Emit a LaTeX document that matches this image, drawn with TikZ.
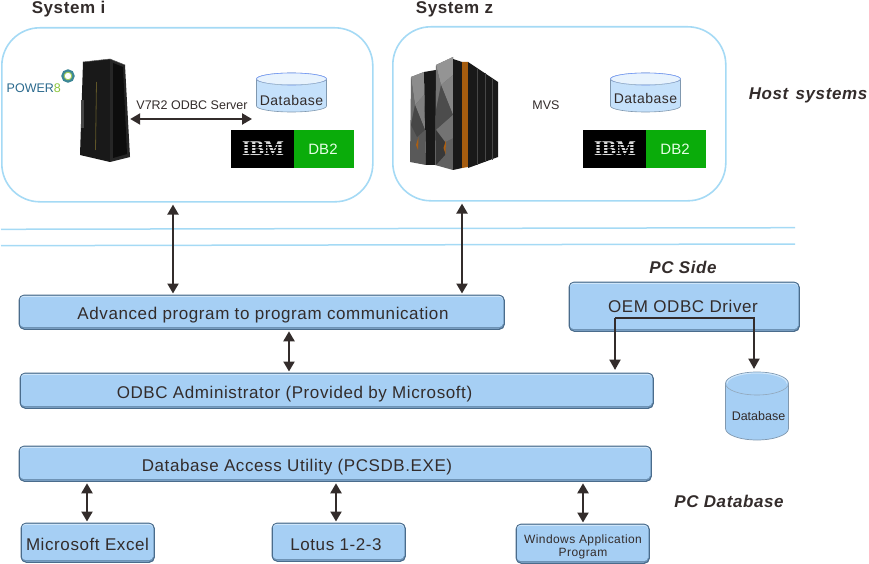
\documentclass[tikz,border=0pt]{standalone}
\usepackage{fontspec}
\setmainfont{Liberation Sans}
\newfontfamily\spfont[LetterSpace=3.5]{Liberation Sans}
\newfontfamily\ibmfont{Liberation Serif}
\usetikzlibrary{arrows.meta,shapes.geometric}
\definecolor{bevelLow}{HTML}{6E93B5}
\definecolor{bevelFill}{HTML}{A6CFF4}
\definecolor{bevelHigh}{HTML}{CFE6FA}
\definecolor{edgeblue}{HTML}{4A6C8C}
\definecolor{sysline}{HTML}{A5DAF5}
\definecolor{ink}{HTML}{332C2B}
\definecolor{dbgreen}{HTML}{0AAC0A}
\definecolor{dbfill}{HTML}{C5E1FB}
\newcommand{\fsz}[1]{\fontsize{#1}{#1}\selectfont}
\tikzset{
  x=1pt,y=-1pt,
  lab/.style={text=ink,inner sep=0pt,anchor=center},
  barlab/.style={text=ink,inner sep=0pt,anchor=base,font=\spfont\fsz{17}},
  headlab/.style={lab,font=\spfont\fsz{17}\bfseries},
  sidelab/.style={lab,font=\spfont\fsz{17}\bfseries\itshape},
  sysbox/.style={draw=sysline,line width=1.6pt,rounded corners=38pt,fill=white,anchor=north west},
  bar/.style={draw=edgeblue,line width=0.8pt,rounded corners=5pt,fill=bevelFill,inner sep=0pt,anchor=north west},
  link/.style={draw=ink,line width=2.2pt,{Triangle[length=10pt,width=11pt]}-{Triangle[length=10pt,width=11pt]}},
  linkone/.style={draw=ink,line width=2.2pt,-{Triangle[length=10.5pt,width=11pt]}},
}
\newcommand{\barnode}[5]{% name x y w h
  \node[bar,minimum width=#4pt,minimum height=#5pt] (#1) at (#2,#3) {};
  \fill[bevelHigh,rounded corners=4pt] (#2+0.6,#3+0.6) rectangle (#2+#4-0.6,#3+7);
  \fill[bevelLow,rounded corners=4pt] (#2+0.6,#3+#5-0.6) rectangle (#2+#4-0.6,#3+#5-7);
  \fill[bevelFill,rounded corners=3pt] (#2+1,#3+2) rectangle (#2+#4-1.2,#3+#5-2.2);
  \draw[edgeblue,line width=0.8pt,rounded corners=5pt] (#2,#3) rectangle (#2+#4,#3+#5);
}
\newcommand{\flatdb}[4]{% name cx top labely
  \begin{scope}[shift={(#2,#3)}]
    \fill[dbfill,draw=edgeblue!70,line width=0.6pt] (-35,6) -- (-35,33) arc[x radius=35,y radius=6,start angle=180,end angle=0] -- (35,6) arc[x radius=35,y radius=6,start angle=0,end angle=-180] -- cycle;
    \fill[white!60!dbfill,draw=sysline!70!blue,line width=0.6pt] (0,6) ellipse[x radius=35,y radius=6];
    \fill[dbfill] (-33.5,8.5) .. controls (-15,12.6) and (15,12.6) .. (33.5,8.5) -- (33.5,12) -- (-33.5,12) -- cycle;
    \draw[edgeblue!60,line width=0.5pt] (-35,6) arc[x radius=35,y radius=6,start angle=180,end angle=0];
  \end{scope}
  \node[lab,font=\spfont\fsz{14}] (#1) at (#2,#4) {Database};
}
\newcommand{\ibmdb}[3]{% name x y
  \begin{scope}[shift={(#2,#3)}]
    \fill[black] (0,0) rectangle (63,38);
    \fill[dbgreen] (62.5,0) rectangle (123,38);
    \node[font=\ibmfont\fsz{21}\bfseries,text=black!15,inner sep=0pt] (#1a) at (32,19) {IBM};
    \foreach \yy in {14.6,17.4,20.2,23} \draw[black,line width=0.5pt] (12,\yy) -- (52,\yy);
    \node[font=\fsz{15},text=white!90!green,inner sep=0pt] (#1b) at (92,19) {DB2};
  \end{scope}
}
\begin{document}
\begin{tikzpicture}
\useasboundingbox (0,0) rectangle (869,564);
% host frames
\node[sysbox,minimum width=371pt,minimum height=174pt] (sysi) at (1,27) {};
\node[sysbox,minimum width=333pt,minimum height=174pt] (sysz) at (392,26) {};
\node[headlab] (headi) at (68.5,9) {System i};
\node[headlab] (headz) at (454.5,9) {System z};
\node[sidelab] (host) at (808,95) {Host\hspace{2pt} systems};
\node[sidelab] (pcside) at (683,267) {PC Side};
\node[sidelab] (pcdb) at (729,501) {PC Database};
% network lines
\draw[sysline,line width=1.5pt] (1,229.3) -- (795,227.7);
\draw[sysline,line width=1.5pt] (1,245.7) -- (795,244);
% POWER8
\node[inner sep=0pt,anchor=west,font=\fsz{12.5}] (power) at (6.5,88) {\textcolor[HTML]{2B6A8E}{POWER}\textcolor[HTML]{8CC63F}{8}};
\draw[line width=2.6pt,color={rgb,255:red,60;green,135;blue,150}] (68,76) circle[radius=5.4];
\draw[line width=0.9pt,color={rgb,255:red,160;green,205;blue,90}] (68,76) circle[radius=3.8];
% tower i
\node[inner sep=0pt,minimum width=50pt,minimum height=100pt] (srvi) at (105,111) {};
\fill[black!90] (83,62) -- (110,59) -- (110,162) -- (80,155) -- cycle;
\fill[black!85] (110,59) -- (125,65) -- (130,157) -- (110,162) -- cycle;
\fill[black!95] (113,63) -- (123,67) -- (127,154) -- (113,158) -- cycle;
\draw[black!65,line width=0.5pt] (83,62) -- (110,59) -- (125,65);
\draw[line width=0.8pt,color={rgb,255:red,95;green,85;blue,40}] (96.5,82) -- (95.5,150);
\fill[black!72] (81,100) rectangle (83.5,128);
% system z machine
\node[inner sep=0pt,minimum width=88pt,minimum height=115pt] (srvz) at (454,114) {};
\fill[black!65] (411,77) -- (424,72) -- (426,165) -- (410,162) -- cycle;
\fill[black!45] (411,77) -- (424,72) -- (424,95) -- (415,105) -- cycle;
\fill[black!58] (411,77) -- (415,105) -- (411,125) -- cycle;
\fill[black!50] (415,105) -- (424,95) -- (425,130) -- cycle;
\fill[black!72] (411,125) -- (415,105) -- (425,130) -- (417,137) -- cycle;
\fill[black!90] (424,72) -- (436,70) -- (436,165) -- (426,165) -- cycle;
\fill[black!62] (436,65) -- (453,57) -- (453,170) -- (435,165) -- cycle;
\fill[black!42] (436,65) -- (453,57) -- (453,75) -- (441,85) -- cycle;
\fill[black!55] (436,65) -- (441,85) -- (436,110) -- cycle;
\fill[black!48] (441,85) -- (453,75) -- (453,115) -- cycle;
\fill[black!70] (436,110) -- (441,85) -- (453,115) -- (436,130) -- cycle;
\fill[black!55] (436,130) -- (453,115) -- (453,138) -- (445,142) -- cycle;
\fill[black!78] (436,130) -- (445,142) -- (445,155) -- (436,165) -- cycle;
\fill[black!90] (453,59) -- (462,62) -- (462,168) -- (453,170) -- cycle;
\fill[color={rgb,255:red,165;green,92;blue,15}] (462,62) -- (468,62) -- (468,167) -- (462,168) -- cycle;
\fill[black!90] (468,62) -- (498,82) -- (498,157) -- (468,168) -- cycle;
\foreach \xx/\ya/\yb in {477/68/165,485/73/162,492/78/160} \draw[black!72,line width=0.5pt] (\xx,\ya) -- (\xx,\yb);
\fill[color={rgb,255:red,170;green,95;blue,20}] (416,145) -- (418.5,137) -- (418,150) -- cycle;
\fill[color={rgb,255:red,170;green,95;blue,20}] (443.5,148) -- (446,140) -- (445.5,154) -- cycle;
\node[lab,font=\fsz{12.5}] (mvs) at (546,105) {MVS};
% databases
\flatdb{dbi}{291.5}{73}{100}
\flatdb{dbz}{645.5}{73}{98}
\ibmdb{ibmi}{231}{130}
\ibmdb{ibmz}{583}{130}
% connection inside System i
\node[lab,font=\fsz{12.5}] (srvlab) at (192,105) {V7R2 ODBC Server};
\coordinate (srvend) at (252,119);
\draw[link] (srvi.east |- srvend) -- (srvend);
% bars
\barnode{adv}{19}{295}{485}{34}
\barnode{oem}{569}{282}{230}{49}
\barnode{odbc}{20}{373}{633}{35}
\barnode{dba}{19}{446}{632}{35}
\barnode{excel}{21}{523}{133}{39}
\barnode{lotus}{272}{523}{133}{38}
\barnode{winapp}{516}{524}{133}{39}
\node[barlab] (advt) at (263,319) {Advanced program to program communication};
\node[barlab] (oemt) at (683,312.7) {OEM ODBC Driver};
\node[barlab] (odbct) at (294.5,398) {ODBC Administrator (Provided by Microsoft)};
\node[barlab] (dbat) at (297,471) {Database Access Utility (PCSDB.EXE)};
\node[barlab] (excelt) at (87.5,550) {Microsoft Excel};
\node[barlab] (lotust) at (336,550) {Lotus 1-2-3};
\node[barlab,font=\spfont\fsz{12}] (wint) at (583,543) {Windows Application};
\node[barlab,font=\spfont\fsz{12}] (wint2) at (583,556) {Program};
% PC-side database
\begin{scope}[shift={(757,372)}]
  \fill[bevelFill,draw=edgeblue!70,line width=0.7pt] (-31.5,11.5) -- (-31.5,56.5) arc[x radius=31.5,y radius=11.5,start angle=180,end angle=0] -- (31.5,11.5) arc[x radius=31.5,y radius=11.5,start angle=0,end angle=-180] -- cycle;
  \draw[bevelHigh,line width=1pt] (-30,11.5) arc[x radius=30,y radius=10.5,start angle=180,end angle=360];
  \draw[edgeblue!60,line width=0.6pt] (-31.5,11.5) arc[x radius=31.5,y radius=11.5,start angle=180,end angle=0];
\end{scope}
\node[lab,font=\fsz{12.5}] (dbpc) at (758.5,416) {Database};
\coordinate (dbpctop) at (754,372);
% connectors
\coordinate (a1) at (173,250);
\coordinate (a2) at (462,250);
\coordinate (a3) at (289,350);
\coordinate (a4) at (87,500);
\coordinate (a5) at (336,500);
\coordinate (a6) at (583,500);
\coordinate (oemL) at (615,318);
\coordinate (oemR) at (754,318);
\draw[link,shorten <=2pt,shorten >=1.5pt] (sysi.south -| a1) -- (adv.north -| a1);
\draw[link,shorten <=2pt,shorten >=1.5pt] (sysz.south -| a2) -- (adv.north -| a2);
\draw[link,shorten <=1.5pt,shorten >=1.5pt] (adv.south -| a3) -- (odbc.north -| a3);
\draw[link,shorten <=1.5pt,shorten >=1.5pt] (dba.south -| a4) -- (excel.north -| a4);
\draw[link,shorten <=1.5pt,shorten >=1.5pt] (dba.south -| a5) -- (lotus.north -| a5);
\draw[link,shorten <=1.5pt,shorten >=1.5pt] (dba.south -| a6) -- (winapp.north -| a6);
\draw[linkone,shorten >=3pt] (oemL) -- (odbc.north -| oemL);
\draw[linkone,shorten >=3pt] (oemL) -- (oemR) -- (dbpctop);
\end{tikzpicture}
\end{document}
